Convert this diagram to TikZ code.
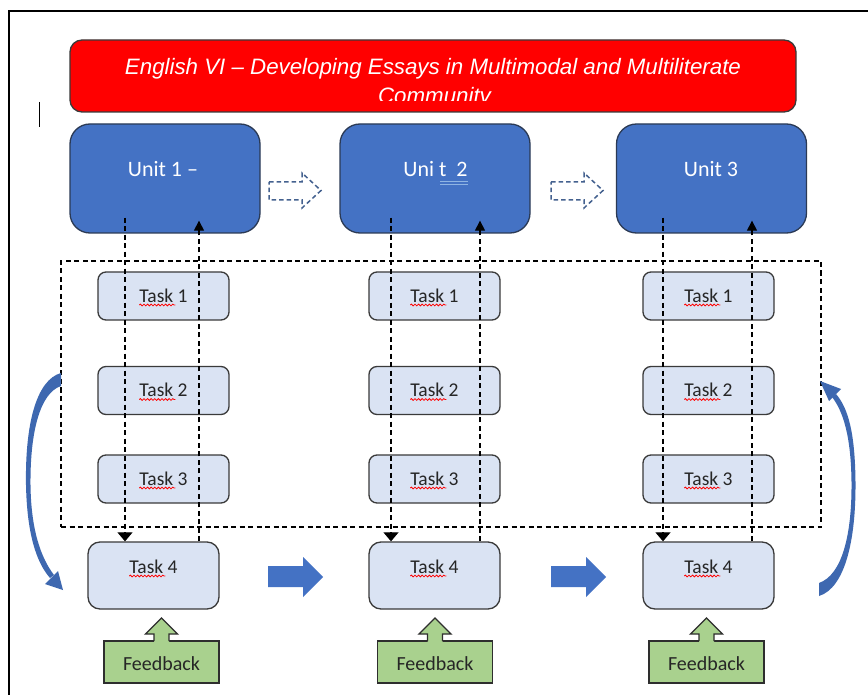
\documentclass[tikz,border=0pt]{standalone}
\usepackage{fontspec}
\setmainfont{Carlito}
\newfontfamily\arialf{Liberation Sans}
\usetikzlibrary{arrows.meta,decorations.pathmorphing,calc}
\definecolor{titlered}{HTML}{FF0000}
\definecolor{unitblue}{HTML}{4472C4}
\definecolor{unitborder}{HTML}{2B3A55}
\definecolor{taskfill}{HTML}{DAE3F3}
\definecolor{taskborder}{HTML}{3A3A3A}
\definecolor{fbfill}{HTML}{A9D18E}
\definecolor{fbborder}{HTML}{2E2E2E}
\definecolor{curveblue}{HTML}{3E68B0}
\definecolor{hollowblue}{HTML}{44618F}
\definecolor{underblue}{HTML}{8FB4E3}
\newcommand\fbuparrow[1]{%
  \fill[fbfill] (#1-7.5,642.6) -- (#1-7.5,634) -- (#1-16,634) -- (#1,618) -- (#1+16,634) -- (#1+7.5,634) -- (#1+7.5,642.6) -- cycle;
  \draw[fbborder,line width=1.3pt,line join=miter] (#1-7.5,641) -- (#1-7.5,634) -- (#1-16,634) -- (#1,618) -- (#1+16,634) -- (#1+7.5,634) -- (#1+7.5,641);}
\begin{document}
\begin{tikzpicture}[x=1pt,y=-1pt,
  redbox/.style={draw=taskborder,fill=titlered,line width=1.3pt,rounded corners=12pt,minimum width=726pt,minimum height=72pt,inner sep=0pt},
  titletext/.style={text=white,font=\arialf\itshape\fontsize{22.3}{24}\selectfont,inner sep=0pt,anchor=base},
  unitbox/.style={draw=unitborder,fill=unitblue,line width=1.3pt,rounded corners=20pt,minimum width=190pt,minimum height=109pt,inner sep=0pt},
  utext/.style={text=white,font=\fontsize{22}{24}\selectfont,inner sep=0pt,anchor=base},
  taskbox/.style={draw=taskborder,fill=taskfill,line width=1.3pt,rounded corners=8pt,minimum width=131pt,minimum height=48pt,inner sep=0pt},
  taskfour/.style={taskbox,rounded corners=12pt,minimum height=67pt},
  ttext/.style={text=black!85,font=\fontsize{19.5}{21}\selectfont,inner sep=0pt,anchor=base},
  fbbox/.style={draw=fbborder,fill=fbfill,line width=1.3pt,minimum width=115pt,minimum height=42pt,inner sep=0pt},
  fbtext/.style={text=black!85,font=\fontsize{20}{22}\selectfont,inner sep=0pt,anchor=base},
  dcon/.style={draw=black,line width=1.1pt,dash pattern=on 5pt off 3.5pt},
  downtip/.style={-{Triangle[length=9pt,width=15pt]}},
  uptip/.style={-{Triangle[length=10pt,width=10pt]}},
  dbox/.style={draw=black,line width=1.1pt,dash pattern=on 5pt off 3.5pt,minimum width=760pt,minimum height=266pt,inner sep=0pt},
  squig/.style={draw=red,line width=0.8pt,decorate,decoration={snake,amplitude=0.9pt,segment length=3.6pt}},
  blockarrow/.style={fill=unitblue},
  hollowarrow/.style={draw=hollowblue,line width=1.5pt,dash pattern=on 4.5pt off 3pt},
  curvearrow/.style={fill=curveblue}
]
\useasboundingbox (0,0) rectangle (868,695);
\fill[white] (0,0) rectangle (868,695);
% frame and caret
\draw[line width=1.3pt] (9,695) -- (9,11) -- (868,11);
\draw[line width=1pt] (39,102) -- (39,127);

% title
\node[redbox] (title) at (433,76) {};
\begin{scope}
  \clip (70,40) rectangle (796,100.5);
  \node[titletext] (tl1) at (433,74.5) {English VI – Developing Essays in Multimodal and Multiliterate};
  \node[titletext] (tl2) at (434.5,103.5) {Community};
\end{scope}

% dashed group box
\node[dbox] (group) at (441,394) {};

% columns
\foreach \cc/\uxx/\txx/\fxx/\bxx/\dxx/\upxx in {1/165/163.5/153.5/161.5/125/199, 2/435/434.5/434.5/435/391/480, 3/711.5/708.5/708.5/706.5/663/752}{
  \node[unitbox] (u\cc) at (\uxx,178.5) {};
  \node[taskbox] (t\cc-1) at (\txx,296) {};
  \node[taskbox] (t\cc-2) at (\txx,390.5) {};
  \node[taskbox] (t\cc-3) at (\txx,479) {};
  \node[taskfour] (t\cc-4) at (\fxx,575.5) {};
  \node[fbbox] (f\cc) at (\bxx,662) {};
  \node[ttext] (tt\cc-1) at ($(t\cc-1.center)+(0,6)$) {Task 1};
  \node[ttext] (tt\cc-2) at ($(t\cc-2.center)+(0,6)$) {Task 2};
  \node[ttext] (tt\cc-3) at ($(t\cc-3.center)+(0,6)$) {Task 3};
  \node[ttext] (tt\cc-4) at ($(t\cc-4.center)+(0,-2.5)$) {Task 4};
  \foreach \rr in {1,2,3,4}{
    \draw[squig] ($(tt\cc-\rr.base west)+(0,3)$) -- ++(36,0);
  }
  \node[fbtext] (ft\cc) at ($(f\cc.center)+(0,8)$) {Feedback};
  \fbuparrow{\bxx}
  \draw[dcon,downtip] ($(u\cc.south)+(\dxx-\uxx,-16)$) -- ($(t\cc-4.north)+(\dxx-\fxx,0)$);
  \draw[dcon,uptip] ($(t\cc-4.north)+(\upxx-\fxx,0)$) -- ($(u\cc.south)+(\upxx-\uxx,-13)$);
}

% unit labels
\node[utext] (ul1) at (163,177) {Unit 1 –};
\node[utext] (ul2) at (435.5,177) {Uni t\ \ 2};
\node[utext] (ul3) at (711,177) {Unit 3};
\draw[underblue,line width=0.8pt] (440,181.5) -- (468,181.5);
\draw[underblue,line width=0.8pt] (440,184) -- (468,184);

% hollow dashed arrows between units
\foreach \sx in {0,282}{
  \draw[hollowarrow] (269+\sx,182) -- (302+\sx,182) -- (302+\sx,173) -- (321+\sx,190.5) -- (302+\sx,208) -- (302+\sx,200) -- (269+\sx,200) -- cycle;
}

% solid block arrows between task 4 boxes
\foreach \sx in {0,283}{
  \fill[blockarrow] (268+\sx,566) -- (303+\sx,566) -- (303+\sx,557) -- (323+\sx,577) -- (303+\sx,597) -- (303+\sx,587) -- (268+\sx,587) -- cycle;
}

% curved arrows
\fill[curvearrow] (61,373) .. controls (36,380) and (25,425) .. (26,485) .. controls (27,533) and (36,562) .. (50,578)
  -- (54,575) .. controls (41,558) and (31,530) .. (30.5,485) .. controls (30,432) and (40,393) .. (61,386) -- cycle;
\fill[curvearrow] (63,590) -- (58,571) -- (45,584) -- cycle;

\fill[curvearrow] (819,596) .. controls (845,588) and (856,540) .. (855.5,482) .. controls (855,432) and (848,408) .. (836,394)
  -- (832,397) .. controls (843,411) and (851,436) .. (851.5,482) .. controls (852,535) and (842,575) .. (819,583) -- cycle;
\fill[curvearrow] (820,381) -- (841,389) -- (829,401) -- cycle;
\end{tikzpicture}
\end{document}
